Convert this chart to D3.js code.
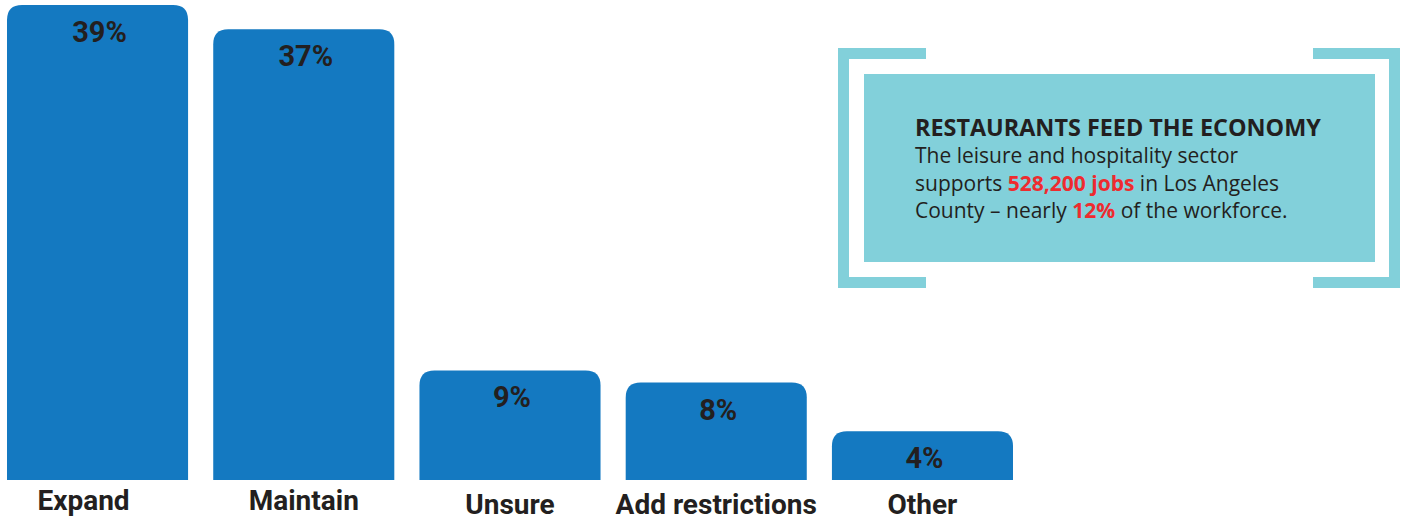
<!DOCTYPE html>
<html>
<head>
<meta charset="utf-8">
<script src="https://cdn.jsdelivr.net/npm/d3@7"></script>
<style>
  body { margin: 0; background: #fff; }
  svg { display: block; }
</style>
</head>
<body>
<div id="chart"></div>
<script>
// survey answers, share of respondents (%)
var categories = ["Expand", "Maintain", "Unsure", "Add restrictions", "Other"];
var values = [39, 37, 9, 8, 4];
var valueLabels = ["39%", "37%", "9%", "8%", "4%"];

var calloutTitle = "RESTAURANTS FEED THE ECONOMY";
var calloutLines = [
    [{t: "The leisure and hospitality sector"}],
    [{t: "supports "}, {t: "528,200 jobs", hi: true}, {t: " in Los Angeles"}],
    [{t: "County \u2013 nearly "}, {t: "12%", hi: true}, {t: " of the workforce."}]
];

var width = 1404, height = 516;
var barColor = "#1479c1";
var textColor = "#231f20";
var teal = "#82d0da";
var red = "#ee2b2f";

var svg = d3.select("#chart").append("svg")
    .attr("width", width).attr("height", height);

var x = d3.scaleBand()
    .domain(categories)
    .range([7, 1013])
    .paddingInner(0.122)
    .paddingOuter(0);

var y = d3.scaleLinear()
    .domain([0, 39])
    .range([480, 5]);

// bar with rounded top corners only
function topRounded(x0, y0, w, h, r) {
    r = Math.min(r, h, w / 2);
    return "M" + x0 + "," + (y0 + h) +
        "V" + (y0 + r) +
        "Q" + x0 + "," + y0 + " " + (x0 + r) + "," + y0 +
        "H" + (x0 + w - r) +
        "Q" + (x0 + w) + "," + y0 + " " + (x0 + w) + "," + (y0 + r) +
        "V" + (y0 + h) + "Z";
}

var data = categories.map(function(c, i) { return {cat: c, v: values[i], lab: valueLabels[i]}; });

svg.selectAll("path.bar").data(data).enter().append("path")
    .attr("class", "bar")
    .attr("fill", barColor)
    .attr("d", d => topRounded(x(d.cat), y(d.v), x.bandwidth(), y(0) - y(d.v), 15));

svg.selectAll("text.val").data(data).enter().append("text")
    .attr("class", "val")
    .attr("x", d => x(d.cat) + x.bandwidth() / 2 + 2)
    .attr("y", d => y(d.v) + 37)
    .attr("text-anchor", "middle")
    .attr("font-family", "Roboto, sans-serif")
    .attr("font-weight", 700)
    .attr("font-size", 29)
    .attr("fill", textColor)
    .text(d => d.lab);

// category labels sit a little lower for the short bars in the original
svg.selectAll("text.cat").data(data).enter().append("text")
    .attr("class", "cat")
    .attr("x", (d, i) => x(d.cat) + x.bandwidth() / 2 + (i == 0 ? -14 : 0))
    .attr("y", (d, i) => i < 2 ? 510 : 514)
    .attr("text-anchor", "middle")
    .attr("font-family", "Roboto, sans-serif")
    .attr("font-weight", 700)
    .attr("font-size", 28)
    .attr("fill", textColor)
    .text(d => d.cat);

// callout box
var box = svg.append("g");
var bw = 11;
// left bracket
box.append("rect").attr("x", 838).attr("y", 48).attr("width", bw).attr("height", 240).attr("fill", teal);
box.append("rect").attr("x", 838).attr("y", 48).attr("width", 88).attr("height", bw).attr("fill", teal);
box.append("rect").attr("x", 838).attr("y", 277).attr("width", 88).attr("height", bw).attr("fill", teal);
// right bracket
box.append("rect").attr("x", 1389).attr("y", 48).attr("width", bw).attr("height", 240).attr("fill", teal);
box.append("rect").attr("x", 1313).attr("y", 48).attr("width", 87).attr("height", bw).attr("fill", teal);
box.append("rect").attr("x", 1313).attr("y", 277).attr("width", 87).attr("height", bw).attr("fill", teal);
// inner panel
box.append("rect").attr("x", 864).attr("y", 74).attr("width", 511).attr("height", 188).attr("fill", teal);

box.append("text")
    .attr("x", 915).attr("y", 136)
    .attr("font-family", "'Open Sans', sans-serif")
    .attr("font-weight", 700)
    .attr("font-size", 23.4)
    .attr("fill", textColor)
    .text(calloutTitle);

calloutLines.forEach(function(line, i) {
    var t = box.append("text")
        .attr("x", 915).attr("y", 163 + i * 27.5)
        .attr("font-family", "'Open Sans', sans-serif")
        .attr("font-size", 21)
        .attr("fill", textColor);
    t.selectAll("tspan").data(line).enter().append("tspan")
        .attr("font-weight", d => d.hi ? 700 : 400)
        .attr("fill", d => d.hi ? red : textColor)
        .text(d => d.t);
});
</script>
</body>
</html>
